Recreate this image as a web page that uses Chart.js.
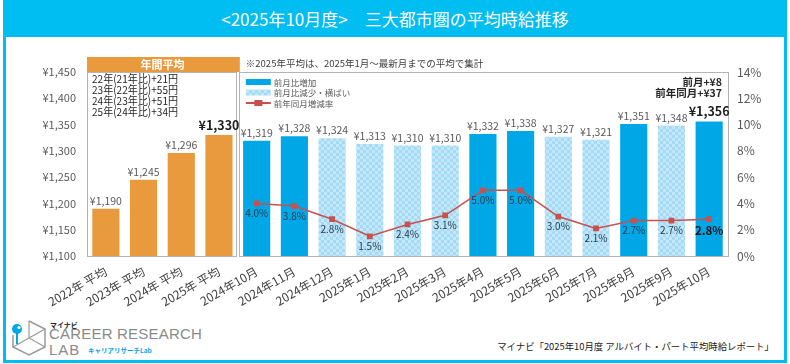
<!DOCTYPE html>
<html lang="ja">
<head>
<meta charset="utf-8">
<script src="https://cdn.jsdelivr.net/npm/chart.js@4.4.1/dist/chart.umd.min.js"></script>
<style>
  body { margin: 0; width: 790px; height: 364px; overflow: hidden; background: #fff;
         font-family: "Noto Sans CJK JP", "Noto Sans", sans-serif; }
  #frame { position: absolute; left: 3px; top: 0; width: 778px; height: 360px;
           border: 3px solid #00BDF2; border-top: none; }
  #title { position: absolute; left: 3px; top: 0; width: 784px; height: 37px; background: #00BDF2;
           color: #fff; font-size: 17px; line-height: 37px; text-align: center; font-weight: 400; }
  #chart { position: absolute; left: 0; top: 0; }
  #source { position: absolute; right: 16px; top: 339px; font-size: 9.4px; color: #222; }
  #logo { position: absolute; left: 8px; top: 318px; }
  .lg1 { position: absolute; left: 50px; top: 320px; font-size: 7px; font-weight: 700; color: #222; }
  .lg2 { position: absolute; left: 49px; top: 325px; font-size: 15px; color: #8a8a8a; font-family: "Liberation Sans", sans-serif; font-weight: 300; letter-spacing: 0.2px; }
  .lg3 { position: absolute; left: 49px; top: 341px; font-size: 15px; color: #8a8a8a; font-family: "Liberation Sans", sans-serif; letter-spacing: 1px; }
  .lg4 { position: absolute; left: 88px; top: 345px; font-size: 6.5px; font-weight: 700; color: #00A6E6; }
</style>
</head>
<body>
<div id="frame"></div>
<div id="title">&lt;2025年10月度&gt;　三大都市圏の平均時給推移</div>
<svg id="logo" width="42" height="40" viewBox="0 0 42 40">
  <path d="M21 3 L37 11 L37 29 L21 37 L5 29 L5 17" fill="none" stroke="#9a9a9a" stroke-width="1.5"/>
  <path d="M21 3 L21 20 L37 29 M21 20 L5 29 M21 20 L37 11" fill="none" stroke="#9a9a9a" stroke-width="1.2"/>
  <line x1="9" y1="14" x2="9" y2="26" stroke="#00A6E6" stroke-width="2"/>
  <circle cx="9" cy="11" r="5" fill="#00A6E6"/>
  <circle cx="11" cy="9.5" r="1.6" fill="#fff"/>
</svg>
<div class="lg1">マイナビ</div>
<div class="lg2">CAREER RESEARCH</div>
<div class="lg3">LAB</div>
<div class="lg4">キャリアリサーチLab</div>
<div id="source">マイナビ「2025年10月度 アルバイト・パート平均時給レポート」</div>
<canvas id="chart" width="790" height="364"></canvas>
<script>
  const annualLabels = ['2022年 平均', '2023年 平均', '2024年 平均', '2025年 平均'];
  const annualWages = [1190, 1245, 1296, 1330];
  const monthLabels = ['2024年10月', '2024年11月', '2024年12月', '2025年1月', '2025年2月', '2025年3月',
    '2025年4月', '2025年5月', '2025年6月', '2025年7月', '2025年8月', '2025年9月', '2025年10月'];
  const monthWages = [1319, 1328, 1324, 1313, 1310, 1310, 1332, 1338, 1327, 1321, 1351, 1348, 1356];
  const yoyRates = [4.0, 3.8, 2.8, 1.5, 2.4, 3.1, 5.0, 5.0, 3.0, 2.1, 2.7, 2.7, 2.8];
  const wageTicks = { min: 1100, max: 1450, step: 50 };
  const rateTicks = { min: 0, max: 14, step: 2 };
  const annualNotes = ['22年(21年比)+21円', '23年(22年比)+55円', '24年(23年比)+51円', '25年(24年比)+34円'];
  const latestNotes = ['前月+¥8', '前年同月+¥37'];
  const legendLabels = ['前月比増加', '前月比減少・横ばい', '前年同月増減率'];

  const ORANGE = '#E99A3D';
  const BLUE = '#00A7E7';
  const RED = '#C9504C';
  const GREY_LINE = '#B4B4B4';
  const JP = '"Noto Sans CJK JP", "Noto Sans", sans-serif';

  function makeChecker() {
    const c = document.createElement('canvas');
    c.width = 6; c.height = 6;
    const g = c.getContext('2d');
    g.fillStyle = '#A3DBF6';
    g.fillRect(0, 0, 6, 6);
    g.fillStyle = '#C4E8FA';
    g.fillRect(0, 0, 3, 3);
    g.fillRect(3, 3, 3, 3);
    return g.createPattern(c, 'repeat');
  }
  const checker = makeChecker();

  const labels = annualLabels.concat(monthLabels);
  const wages = annualWages.concat(monthWages);
  const rates = annualLabels.map(() => null).concat(yoyRates);
  const barColors = annualWages.map(() => ORANGE).concat(
    monthWages.map((v, i) => (i === 0 || v > monthWages[i - 1]) ? BLUE : checker)
  );
  const nAnnual = annualWages.length;
  const emphasis = [nAnnual - 1, wages.length - 1];

  const yen = v => '¥' + v.toLocaleString('en-US');

  // draw text stretched or squeezed to a given width
  function fitText(ctx, t, x, y, w) {
    ctx.letterSpacing = '0px';
    const w0 = ctx.measureText(t).width;
    if (w0 < w) {
      ctx.letterSpacing = ((w - w0) / t.length) + 'px';
      ctx.fillText(t, x, y);
      ctx.letterSpacing = '0px';
    } else {
      ctx.fillText(t, x, y, w);
    }
  }

  const decorations = {
    id: 'decorations',
    beforeDatasetsDraw(chart) {
      const { ctx, chartArea: a, scales } = chart;
      const sepX = (scales.x.getPixelForValue(nAnnual - 1) + scales.x.getPixelForValue(nAnnual)) / 2;
      ctx.save();
      ctx.strokeStyle = GREY_LINE;
      ctx.lineWidth = 1;
      ctx.strokeRect(Math.round(a.left) + 0.5, Math.round(a.top) + 0.5, Math.round(sepX - 1.5 - a.left), Math.round(a.bottom - a.top));
      ctx.strokeRect(Math.round(sepX + 1.5) + 0.5, Math.round(a.top) + 0.5, Math.round(a.right - sepX - 1.5), Math.round(a.bottom - a.top));
      ctx.fillStyle = ORANGE;
      ctx.fillRect(a.left, a.top - 15, sepX + 2 - a.left, 15);
      ctx.fillStyle = '#fff';
      ctx.font = '700 11px ' + JP;
      ctx.textAlign = 'center';
      ctx.textBaseline = 'middle';
      ctx.fillText('年間平均', (a.left + sepX) / 2, a.top - 7.5);

      ctx.fillStyle = '#404040';
      ctx.font = '9.5px ' + JP;
      ctx.textAlign = 'left';
      ctx.fillText('※2025年平均は、2025年1月～最新月までの平均で集計', sepX + 8, a.top - 9);

      ctx.fillStyle = '#262626';
      ctx.font = '11px ' + JP;
      annualNotes.forEach((t, i) => fitText(ctx, t, a.left + 5, a.top + 6.5 + i * 11.2, 86));

      ctx.font = '700 10.5px ' + JP;
      ctx.textAlign = 'right';
      latestNotes.forEach((t, i) => ctx.fillText(t, a.right - 6, a.top + 10 + i * 11));

      // legend
      const lx = sepX + 8;
      const ly = [a.top + 10, a.top + 20.5, a.top + 31];
      ctx.fillStyle = BLUE;
      ctx.fillRect(lx, ly[0] - 3, 25, 6);
      ctx.fillStyle = checker;
      ctx.fillRect(lx, ly[1] - 3, 25, 6);
      ctx.strokeStyle = RED;
      ctx.lineWidth = 2;
      ctx.beginPath();
      ctx.moveTo(lx, ly[2]);
      ctx.lineTo(lx + 25, ly[2]);
      ctx.stroke();
      ctx.fillStyle = RED;
      ctx.fillRect(lx + 8.5, ly[2] - 3, 8, 6);
      ctx.fillStyle = '#595959';
      ctx.font = '8.5px ' + JP;
      ctx.textAlign = 'left';
      legendLabels.forEach((t, i) => ctx.fillText(t, lx + 28, ly[i] + 0.5));
      ctx.restore();
    },
    afterDatasetsDraw(chart) {
      const { ctx } = chart;
      const bars = chart.getDatasetMeta(0).data;
      const pts = chart.getDatasetMeta(1).data;
      ctx.save();
      ctx.textAlign = 'center';
      ctx.textBaseline = 'middle';
      bars.forEach((b, i) => {
        const big = emphasis.includes(i);
        ctx.fillStyle = big ? '#1f1f1f' : '#595959';
        ctx.font = big ? '700 12.5px ' + JP : '10.5px ' + JP;
        ctx.fillText(yen(wages[i]), b.x, b.y - (big ? 10 : 8));
      });
      pts.forEach((p, i) => {
        if (rates[i] === null) return;
        const big = i === rates.length - 1;
        ctx.fillStyle = big ? '#111' : '#2E3A48';
        ctx.font = big ? '700 11.5px ' + JP : '10px ' + JP;
        ctx.fillText(rates[i].toFixed(1) + '%', p.x, p.y + (big ? 11 : 10));
      });
      ctx.restore();
    }
  };

  new Chart(document.getElementById('chart'), {
    data: {
      labels: labels,
      datasets: [
        {
          type: 'bar',
          data: wages,
          backgroundColor: barColors,
          yAxisID: 'y',
          categoryPercentage: 1,
          barPercentage: 0.72,
          order: 1,
        },
        {
          type: 'line',
          data: rates,
          yAxisID: 'y1',
          borderColor: RED,
          backgroundColor: RED,
          borderWidth: 1.5,
          pointStyle: 'rect',
          pointRadius: 3,
          tension: 0,
          order: 0,
        },
      ],
    },
    options: {
      responsive: false,
      animation: false,
      layout: { padding: { top: 72, left: 0, right: 0, bottom: 0 } },
      plugins: { legend: { display: false }, tooltip: { enabled: false } },
      scales: {
        x: {
          grid: { display: false },
          border: { display: false },
          ticks: { autoSkip: false, maxRotation: 30, minRotation: 30, padding: 0,
                   color: '#404040', font: { size: 12, family: JP } },
          afterFit: s => { s.height = 108; },
        },
        y: {
          position: 'left',
          min: wageTicks.min, max: wageTicks.max,
          grid: { display: false },
          border: { display: false },
          ticks: { stepSize: wageTicks.step, callback: v => yen(v), padding: 3,
                   color: '#595959', font: { size: 11, family: JP } },
          afterFit: s => { s.width = 87; },
        },
        y1: {
          position: 'right',
          min: rateTicks.min, max: rateTicks.max,
          grid: { display: false },
          border: { display: false },
          ticks: { stepSize: rateTicks.step, callback: v => v + '%', padding: 1,
                   color: '#595959', font: { size: 12, family: JP } },
          afterFit: s => { s.width = 62; },
        },
      },
    },
    plugins: [decorations],
  });
</script>
</body>
</html>
